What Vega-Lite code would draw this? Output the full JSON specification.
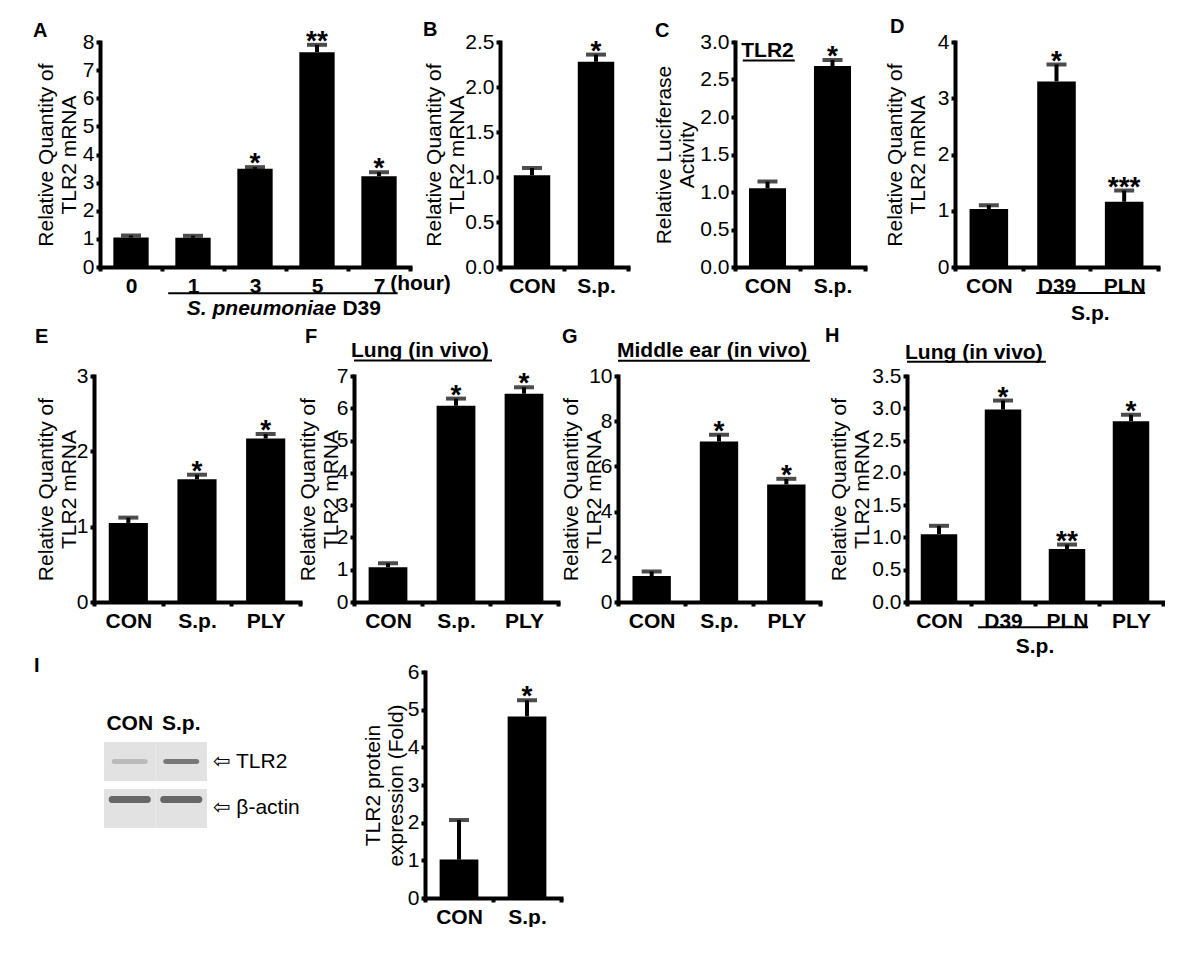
{
  "$schema": "https://vega.github.io/schema/vega-lite/v6.json",
  "background": "white",
  "padding": {"left": 33, "top": 17, "right": 0, "bottom": 0},
  "datasets": {
    "A": [
      {"cat": "0", "mean": 1.05, "err": 1.12, "sig": ""},
      {"cat": "1", "mean": 1.04, "err": 1.11, "sig": ""},
      {"cat": "3", "mean": 3.49, "err": 3.55, "sig": "*"},
      {"cat": "5", "mean": 7.64, "err": 7.9, "sig": "**"},
      {"cat": "7", "mean": 3.23, "err": 3.37, "sig": "*"}
    ],
    "B": [
      {"cat": "CON", "mean": 1.02, "err": 1.1, "sig": ""},
      {"cat": "S.p.", "mean": 2.28, "err": 2.36, "sig": "*"}
    ],
    "C": [
      {"cat": "CON", "mean": 1.05, "err": 1.14, "sig": ""},
      {"cat": "S.p.", "mean": 2.68, "err": 2.76, "sig": "*"}
    ],
    "D": [
      {"cat": "CON", "mean": 1.03, "err": 1.1, "sig": ""},
      {"cat": "D39", "mean": 3.3, "err": 3.6, "sig": "*"},
      {"cat": "PLN", "mean": 1.16, "err": 1.36, "sig": "***"}
    ],
    "E": [
      {"cat": "CON", "mean": 1.05, "err": 1.12, "sig": ""},
      {"cat": "S.p.", "mean": 1.63, "err": 1.69, "sig": "*"},
      {"cat": "PLY", "mean": 2.17, "err": 2.23, "sig": "*"}
    ],
    "F": [
      {"cat": "CON", "mean": 1.08, "err": 1.2, "sig": ""},
      {"cat": "S.p.", "mean": 6.08, "err": 6.3, "sig": "*"},
      {"cat": "PLY", "mean": 6.45, "err": 6.65, "sig": "*"}
    ],
    "G": [
      {"cat": "CON", "mean": 1.15, "err": 1.35, "sig": ""},
      {"cat": "S.p.", "mean": 7.1, "err": 7.4, "sig": "*"},
      {"cat": "PLY", "mean": 5.2, "err": 5.45, "sig": "*"}
    ],
    "H": [
      {"cat": "CON", "mean": 1.05, "err": 1.18, "sig": ""},
      {"cat": "D39", "mean": 2.98, "err": 3.12, "sig": "*"},
      {"cat": "PLN", "mean": 0.82, "err": 0.89, "sig": "**"},
      {"cat": "PLY", "mean": 2.8, "err": 2.9, "sig": "*"}
    ],
    "I": [
      {"cat": "CON", "mean": 1.02, "err": 2.07, "sig": ""},
      {"cat": "S.p.", "mean": 4.82, "err": 5.25, "sig": "*"}
    ],
    "blot": [
      {"lane": "CON", "row": "TLR2", "level": 0.25},
      {"lane": "S.p.", "row": "TLR2", "level": 0.72},
      {"lane": "CON", "row": "β-actin", "level": 0.85},
      {"lane": "S.p.", "row": "β-actin", "level": 0.85}
    ]
  },
  "bounds": "flush",
  "spacing": 0,
  "vconcat": [
    {
      "bounds": "flush",
      "spacing": 0,
      "hconcat": [
        {"width": 6, "height": 225, "data": {"values": [{}]}, "mark": {"type": "point", "opacity": 0}},
        {
          "width": 310, "height": 225,
          "data": {"name": "A"},
          "encoding": {"x": {"field": "cat", "type": "nominal", "scale": {"domain": ["0", "1", "3", "5", "7"], "paddingInner": 0, "paddingOuter": 0}, "axis": {"title": null}}},
          "layer": [
            {"mark": {"type": "bar", "width": {"band": 0.57}, "color": "black"}, "encoding": {"y": {"field": "mean", "type": "quantitative", "scale": {"domain": [0, 8], "nice": false}, "axis": {"values": [0, 1, 2, 3, 4, 5, 6, 7, 8], "tickCount": 20, "format": "d", "labelOverlap": false, "title": ["Relative Quantity of", "TLR2 mRNA"], "titleX": -44}}}},
            {"mark": {"type": "rule", "strokeWidth": 4, "color": "black"}, "encoding": {"y": {"field": "mean", "type": "quantitative"}, "y2": {"field": "err"}}},
            {"mark": {"type": "tick", "thickness": 4, "size": 20, "color": "black"}, "encoding": {"y": {"field": "err", "type": "quantitative"}}},
            {"mark": {"type": "text", "fontSize": 28, "fontWeight": "bold", "baseline": "alphabetic", "dy": 5, "color": "black"}, "encoding": {"y": {"field": "err", "type": "quantitative"}, "text": {"field": "sig"}}},
            {"data": {"values": [{}]}, "mark": {"type": "text", "fontSize": 20, "fontWeight": "bold", "align": "left", "baseline": "alphabetic", "dx": -67, "color": "black"}, "encoding": {"x": {"datum": "0", "bandPosition": 0}, "y": {"datum": 8.18}, "text": {"value": "A"}}},
            {"data": {"values": [{}]}, "mark": {"type": "rule", "strokeWidth": 2, "color": "black"}, "encoding": {"x": {"datum": "1", "bandPosition": 0.1}, "x2": {"datum": "7", "bandPosition": 0.8}, "y": {"datum": -0.93}}},
            {"data": {"values": [{}]}, "mark": {"type": "text", "fontSize": 21, "fontWeight": "bold", "fontStyle": "italic", "align": "right", "baseline": "middle", "color": "black"}, "encoding": {"x": {"datum": "5", "bandPosition": 0.81}, "y": {"datum": -1.5}, "text": {"value": "S. pneumoniae"}}},
            {"data": {"values": [{}]}, "mark": {"type": "text", "fontSize": 21, "fontWeight": "bold", "align": "left", "baseline": "middle", "color": "black"}, "encoding": {"x": {"datum": "5", "bandPosition": 0.91}, "y": {"datum": -1.5}, "text": {"value": "D39"}}},
            {"data": {"values": [{}]}, "mark": {"type": "text", "fontSize": 21, "fontWeight": "bold", "align": "left", "baseline": "middle", "color": "black"}, "encoding": {"x": {"datum": "7", "bandPosition": 0.68}, "y": {"datum": -0.6}, "text": {"value": "(hour)"}}}
          ]
        },
        {"width": 90, "height": 225, "data": {"values": [{}]}, "mark": {"type": "point", "opacity": 0}},
        {
          "width": 128, "height": 225,
          "data": {"name": "B"},
          "encoding": {"x": {"field": "cat", "type": "nominal", "scale": {"domain": ["CON", "S.p."], "paddingInner": 0, "paddingOuter": 0}, "axis": {"title": null}}},
          "layer": [
            {"mark": {"type": "bar", "width": {"band": 0.57}, "color": "black"}, "encoding": {"y": {"field": "mean", "type": "quantitative", "scale": {"domain": [0, 2.5], "nice": false}, "axis": {"values": [0, 0.5, 1, 1.5, 2, 2.5], "tickCount": 20, "format": ".1f", "labelOverlap": false, "title": ["Relative Quantity of", "TLR2 mRNA"], "titleX": -56}}}},
            {"mark": {"type": "rule", "strokeWidth": 4, "color": "black"}, "encoding": {"y": {"field": "mean", "type": "quantitative"}, "y2": {"field": "err"}}},
            {"mark": {"type": "tick", "thickness": 4, "size": 20, "color": "black"}, "encoding": {"y": {"field": "err", "type": "quantitative"}}},
            {"mark": {"type": "text", "fontSize": 28, "fontWeight": "bold", "baseline": "alphabetic", "dy": 5, "color": "black"}, "encoding": {"y": {"field": "err", "type": "quantitative"}, "text": {"field": "sig"}}},
            {"data": {"values": [{}]}, "mark": {"type": "text", "fontSize": 20, "fontWeight": "bold", "align": "left", "baseline": "alphabetic", "dx": -77, "color": "black"}, "encoding": {"x": {"datum": "CON", "bandPosition": 0}, "y": {"datum": 2.567}, "text": {"value": "B"}}}
          ]
        },
        {"width": 107, "height": 225, "data": {"values": [{}]}, "mark": {"type": "point", "opacity": 0}},
        {
          "width": 130, "height": 225,
          "data": {"name": "C"},
          "encoding": {"x": {"field": "cat", "type": "nominal", "scale": {"domain": ["CON", "S.p."], "paddingInner": 0, "paddingOuter": 0}, "axis": {"title": null}}},
          "layer": [
            {"mark": {"type": "bar", "width": {"band": 0.57}, "color": "black"}, "encoding": {"y": {"field": "mean", "type": "quantitative", "scale": {"domain": [0, 3], "nice": false}, "axis": {"values": [0, 0.5, 1, 1.5, 2, 2.5, 3], "tickCount": 20, "format": ".1f", "labelOverlap": false, "title": ["Relative Luciferase", "Activity"], "titleX": -61}}}},
            {"mark": {"type": "rule", "strokeWidth": 4, "color": "black"}, "encoding": {"y": {"field": "mean", "type": "quantitative"}, "y2": {"field": "err"}}},
            {"mark": {"type": "tick", "thickness": 4, "size": 20, "color": "black"}, "encoding": {"y": {"field": "err", "type": "quantitative"}}},
            {"mark": {"type": "text", "fontSize": 28, "fontWeight": "bold", "baseline": "alphabetic", "dy": 5, "color": "black"}, "encoding": {"y": {"field": "err", "type": "quantitative"}, "text": {"field": "sig"}}},
            {"data": {"values": [{}]}, "mark": {"type": "text", "fontSize": 20, "fontWeight": "bold", "align": "left", "baseline": "alphabetic", "dx": -80, "color": "black"}, "encoding": {"x": {"datum": "CON", "bandPosition": 0}, "y": {"datum": 3.07}, "text": {"value": "C"}}},
            {"data": {"values": [{}]}, "mark": {"type": "text", "fontSize": 21, "fontWeight": "bold", "align": "center", "baseline": "alphabetic", "color": "black"}, "encoding": {"x": {"datum": "CON"}, "y": {"datum": 2.8}, "text": {"value": "TLR2"}}},
            {"data": {"values": [{}]}, "mark": {"type": "rule", "strokeWidth": 2, "color": "black"}, "encoding": {"x": {"datum": "CON", "bandPosition": 0.12}, "x2": {"datum": "CON", "bandPosition": 0.92}, "y": {"datum": 2.755}}}
          ]
        },
        {"width": 90, "height": 225, "data": {"values": [{}]}, "mark": {"type": "point", "opacity": 0}},
        {
          "width": 203, "height": 225,
          "data": {"name": "D"},
          "encoding": {"x": {"field": "cat", "type": "nominal", "scale": {"domain": ["CON", "D39", "PLN"], "paddingInner": 0, "paddingOuter": 0}, "axis": {"title": null}}},
          "layer": [
            {"mark": {"type": "bar", "width": {"band": 0.57}, "color": "black"}, "encoding": {"y": {"field": "mean", "type": "quantitative", "scale": {"domain": [0, 4], "nice": false}, "axis": {"values": [0, 1, 2, 3, 4], "tickCount": 20, "format": "d", "labelOverlap": false, "title": ["Relative Quantity of", "TLR2 mRNA"], "titleX": -50}}}},
            {"mark": {"type": "rule", "strokeWidth": 4, "color": "black"}, "encoding": {"y": {"field": "mean", "type": "quantitative"}, "y2": {"field": "err"}}},
            {"mark": {"type": "tick", "thickness": 4, "size": 20, "color": "black"}, "encoding": {"y": {"field": "err", "type": "quantitative"}}},
            {"mark": {"type": "text", "fontSize": 28, "fontWeight": "bold", "baseline": "alphabetic", "dy": 5, "color": "black"}, "encoding": {"y": {"field": "err", "type": "quantitative"}, "text": {"field": "sig"}}},
            {"data": {"values": [{}]}, "mark": {"type": "text", "fontSize": 20, "fontWeight": "bold", "align": "left", "baseline": "alphabetic", "dx": -65, "color": "black"}, "encoding": {"x": {"datum": "CON", "bandPosition": 0}, "y": {"datum": 4.155}, "text": {"value": "D"}}},
            {"data": {"values": [{}]}, "mark": {"type": "rule", "strokeWidth": 2, "color": "black"}, "encoding": {"x": {"datum": "D39", "bandPosition": 0.2}, "x2": {"datum": "PLN", "bandPosition": 0.81}, "y": {"datum": -0.46}}},
            {"data": {"values": [{}]}, "mark": {"type": "text", "fontSize": 21, "fontWeight": "bold", "align": "center", "baseline": "middle", "color": "black"}, "encoding": {"x": {"datum": "PLN", "bandPosition": 0}, "y": {"datum": -0.84}, "text": {"value": "S.p."}}}
          ]
        }
      ]
    },
    {"width": 1, "height": 334, "data": {"values": [{}]}, "mark": {"type": "point", "opacity": 0}},
    {
      "bounds": "flush",
      "spacing": 0,
      "hconcat": [
        {
          "width": 206, "height": 226,
          "data": {"name": "E"},
          "encoding": {"x": {"field": "cat", "type": "nominal", "scale": {"domain": ["CON", "S.p.", "PLY"], "paddingInner": 0, "paddingOuter": 0}, "axis": {"title": null}}},
          "layer": [
            {"mark": {"type": "bar", "width": {"band": 0.57}, "color": "black"}, "encoding": {"y": {"field": "mean", "type": "quantitative", "scale": {"domain": [0, 3], "nice": false}, "axis": {"values": [0, 1, 2, 3], "tickCount": 20, "format": "d", "labelOverlap": false, "title": ["Relative Quantity of", "TLR2 mRNA"], "titleX": -38}}}},
            {"mark": {"type": "rule", "strokeWidth": 4, "color": "black"}, "encoding": {"y": {"field": "mean", "type": "quantitative"}, "y2": {"field": "err"}}},
            {"mark": {"type": "tick", "thickness": 4, "size": 20, "color": "black"}, "encoding": {"y": {"field": "err", "type": "quantitative"}}},
            {"mark": {"type": "text", "fontSize": 28, "fontWeight": "bold", "baseline": "alphabetic", "dy": 5, "color": "black"}, "encoding": {"y": {"field": "err", "type": "quantitative"}, "text": {"field": "sig"}}},
            {"data": {"values": [{}]}, "mark": {"type": "text", "fontSize": 20, "fontWeight": "bold", "align": "left", "baseline": "alphabetic", "dx": -59, "color": "black"}, "encoding": {"x": {"datum": "CON", "bandPosition": 0}, "y": {"datum": 3.438}, "text": {"value": "E"}}}
          ]
        },
        {"width": 54, "height": 226, "data": {"values": [{}]}, "mark": {"type": "point", "opacity": 0}},
        {
          "width": 204, "height": 226,
          "data": {"name": "F"},
          "encoding": {"x": {"field": "cat", "type": "nominal", "scale": {"domain": ["CON", "S.p.", "PLY"], "paddingInner": 0, "paddingOuter": 0}, "axis": {"title": null}}},
          "layer": [
            {"mark": {"type": "bar", "width": {"band": 0.57}, "color": "black"}, "encoding": {"y": {"field": "mean", "type": "quantitative", "scale": {"domain": [0, 7], "nice": false}, "axis": {"values": [0, 1, 2, 3, 4, 5, 6, 7], "tickCount": 20, "format": "d", "labelOverlap": false, "title": ["Relative Quantity of", "TLR2 mRNA"], "titleX": -36}}}},
            {"mark": {"type": "rule", "strokeWidth": 4, "color": "black"}, "encoding": {"y": {"field": "mean", "type": "quantitative"}, "y2": {"field": "err"}}},
            {"mark": {"type": "tick", "thickness": 4, "size": 20, "color": "black"}, "encoding": {"y": {"field": "err", "type": "quantitative"}}},
            {"mark": {"type": "text", "fontSize": 28, "fontWeight": "bold", "baseline": "alphabetic", "dy": 5, "color": "black"}, "encoding": {"y": {"field": "err", "type": "quantitative"}, "text": {"field": "sig"}}},
            {"data": {"values": [{}]}, "mark": {"type": "text", "fontSize": 20, "fontWeight": "bold", "align": "left", "baseline": "alphabetic", "dx": -49, "color": "black"}, "encoding": {"x": {"datum": "CON", "bandPosition": 0}, "y": {"datum": 8.02}, "text": {"value": "F"}}},
            {"data": {"values": [{}]}, "mark": {"type": "text", "fontSize": 21, "fontWeight": "bold", "align": "left", "baseline": "alphabetic", "dx": -3, "color": "black"}, "encoding": {"x": {"datum": "CON", "bandPosition": 0}, "y": {"datum": 7.59}, "text": {"value": "Lung (in vivo)"}}},
            {"data": {"values": [{}]}, "mark": {"type": "rule", "strokeWidth": 2, "color": "black"}, "encoding": {"x": {"datum": "CON", "bandPosition": 0}, "x2": {"datum": "PLY", "bandPosition": 0.03}, "y": {"datum": 7.48}}}
          ]
        },
        {"width": 60, "height": 226, "data": {"values": [{}]}, "mark": {"type": "point", "opacity": 0}},
        {
          "width": 202, "height": 226,
          "data": {"name": "G"},
          "encoding": {"x": {"field": "cat", "type": "nominal", "scale": {"domain": ["CON", "S.p.", "PLY"], "paddingInner": 0, "paddingOuter": 0}, "axis": {"title": null}}},
          "layer": [
            {"mark": {"type": "bar", "width": {"band": 0.57}, "color": "black"}, "encoding": {"y": {"field": "mean", "type": "quantitative", "scale": {"domain": [0, 10], "nice": false}, "axis": {"values": [0, 2, 4, 6, 8, 10], "tickCount": 20, "format": "d", "labelOverlap": false, "title": ["Relative Quantity of", "TLR2 mRNA"], "titleX": -37}}}},
            {"mark": {"type": "rule", "strokeWidth": 4, "color": "black"}, "encoding": {"y": {"field": "mean", "type": "quantitative"}, "y2": {"field": "err"}}},
            {"mark": {"type": "tick", "thickness": 4, "size": 20, "color": "black"}, "encoding": {"y": {"field": "err", "type": "quantitative"}}},
            {"mark": {"type": "text", "fontSize": 28, "fontWeight": "bold", "baseline": "alphabetic", "dy": 5, "color": "black"}, "encoding": {"y": {"field": "err", "type": "quantitative"}, "text": {"field": "sig"}}},
            {"data": {"values": [{}]}, "mark": {"type": "text", "fontSize": 20, "fontWeight": "bold", "align": "left", "baseline": "alphabetic", "dx": -56, "color": "black"}, "encoding": {"x": {"datum": "CON", "bandPosition": 0}, "y": {"datum": 11.46}, "text": {"value": "G"}}},
            {"data": {"values": [{}]}, "mark": {"type": "text", "fontSize": 21, "fontWeight": "bold", "align": "left", "baseline": "alphabetic", "dx": -1, "color": "black"}, "encoding": {"x": {"datum": "CON", "bandPosition": 0}, "y": {"datum": 10.83}, "text": {"value": "Middle ear (in vivo)"}}},
            {"data": {"values": [{}]}, "mark": {"type": "rule", "strokeWidth": 2, "color": "black"}, "encoding": {"x": {"datum": "CON", "bandPosition": 0}, "x2": {"datum": "PLY", "bandPosition": 0.85}, "y": {"datum": 10.67}}}
          ]
        },
        {"width": 87, "height": 226, "data": {"values": [{}]}, "mark": {"type": "point", "opacity": 0}},
        {
          "width": 256, "height": 226,
          "data": {"name": "H"},
          "encoding": {"x": {"field": "cat", "type": "nominal", "scale": {"domain": ["CON", "D39", "PLN", "PLY"], "paddingInner": 0, "paddingOuter": 0}, "axis": {"title": null}}},
          "layer": [
            {"mark": {"type": "bar", "width": {"band": 0.57}, "color": "black"}, "encoding": {"y": {"field": "mean", "type": "quantitative", "scale": {"domain": [0, 3.5], "nice": false}, "axis": {"values": [0, 0.5, 1, 1.5, 2, 2.5, 3, 3.5], "tickCount": 20, "format": ".1f", "labelOverlap": false, "title": ["Relative Quantity of", "TLR2 mRNA"], "titleX": -58}}}},
            {"mark": {"type": "rule", "strokeWidth": 4, "color": "black"}, "encoding": {"y": {"field": "mean", "type": "quantitative"}, "y2": {"field": "err"}}},
            {"mark": {"type": "tick", "thickness": 4, "size": 20, "color": "black"}, "encoding": {"y": {"field": "err", "type": "quantitative"}}},
            {"mark": {"type": "text", "fontSize": 28, "fontWeight": "bold", "baseline": "alphabetic", "dy": 5, "color": "black"}, "encoding": {"y": {"field": "err", "type": "quantitative"}, "text": {"field": "sig"}}},
            {"data": {"values": [{}]}, "mark": {"type": "text", "fontSize": 20, "fontWeight": "bold", "align": "left", "baseline": "alphabetic", "dx": -82, "color": "black"}, "encoding": {"x": {"datum": "CON", "bandPosition": 0}, "y": {"datum": 4.027}, "text": {"value": "H"}}},
            {"data": {"values": [{}]}, "mark": {"type": "text", "fontSize": 21, "fontWeight": "bold", "align": "left", "baseline": "alphabetic", "dx": -2, "color": "black"}, "encoding": {"x": {"datum": "CON", "bandPosition": 0}, "y": {"datum": 3.77}, "text": {"value": "Lung (in vivo)"}}},
            {"data": {"values": [{}]}, "mark": {"type": "rule", "strokeWidth": 2, "color": "black"}, "encoding": {"x": {"datum": "CON", "bandPosition": 0}, "x2": {"datum": "PLN", "bandPosition": 0.17}, "y": {"datum": 3.72}}},
            {"data": {"values": [{}]}, "mark": {"type": "rule", "strokeWidth": 2, "color": "black"}, "encoding": {"x": {"datum": "D39", "bandPosition": 0.11}, "x2": {"datum": "PLN", "bandPosition": 0.83}, "y": {"datum": -0.39}}},
            {"data": {"values": [{}]}, "mark": {"type": "text", "fontSize": 21, "fontWeight": "bold", "align": "center", "baseline": "middle", "color": "black"}, "encoding": {"x": {"datum": "PLN", "bandPosition": 0}, "y": {"datum": -0.7}, "text": {"value": "S.p."}}}
          ]
        }
      ]
    },
    {"width": 1, "height": 296, "data": {"values": [{}]}, "mark": {"type": "point", "opacity": 0}},
    {
      "bounds": "flush",
      "spacing": 0,
      "hconcat": [
        {"width": 10, "height": 226, "data": {"values": [{}]}, "mark": {"type": "point", "opacity": 0}},
        {
          "width": 103, "height": 226,
          "data": {"name": "blot"},
          "encoding": {
            "x": {"field": "lane", "type": "nominal", "scale": {"domain": ["CON", "S.p."], "paddingInner": 0, "paddingOuter": 0}, "axis": {"orient": "top", "offset": -70, "domain": false, "ticks": false, "tickSize": 0, "labelPadding": 9, "tickBand": "center", "title": null}},
            "y": {"field": "row", "type": "nominal", "scale": {"domain": ["TLR2", "β-actin"], "range": [70, 156], "paddingInner": 0.17, "paddingOuter": 0}, "axis": {"orient": "right", "domain": false, "ticks": false, "tickSize": 0, "labelPadding": 5, "labelFontSize": 21, "labelExpr": "'⇦ ' + datum.value", "title": null}}
          },
          "layer": [
            {"mark": {"type": "rect", "color": "#e2e2e2"}},
            {"transform": [{"filter": "datum.row === 'TLR2'"}], "mark": {"type": "tick", "orient": "horizontal", "size": 36, "thickness": 5, "cornerRadius": 3}, "encoding": {"color": {"field": "level", "type": "quantitative", "scale": {"domain": [0, 1], "range": ["#e2e2e2", "#1a1a1a"]}, "legend": null}}},
            {"transform": [{"filter": "datum.row === 'β-actin'"}], "mark": {"type": "tick", "orient": "horizontal", "size": 42, "thickness": 7, "cornerRadius": 3}, "encoding": {"y": {"field": "row", "type": "nominal", "bandPosition": 0.27}, "color": {"field": "level", "type": "quantitative", "scale": {"domain": [0, 1], "range": ["#e2e2e2", "#1a1a1a"]}, "legend": null}}}
          ]
        },
        {"width": 218, "height": 226, "data": {"values": [{}]}, "mark": {"type": "point", "opacity": 0}},
        {
          "width": 136, "height": 226,
          "data": {"name": "I"},
          "encoding": {"x": {"field": "cat", "type": "nominal", "scale": {"domain": ["CON", "S.p."], "paddingInner": 0, "paddingOuter": 0}, "axis": {"title": null}}},
          "layer": [
            {"mark": {"type": "bar", "width": {"band": 0.57}, "color": "black"}, "encoding": {"y": {"field": "mean", "type": "quantitative", "scale": {"domain": [0, 6], "nice": false}, "axis": {"values": [0, 1, 2, 3, 4, 5, 6], "tickCount": 20, "format": "d", "labelOverlap": false, "title": ["TLR2 protein", "expression (Fold)"], "titleX": -42}}}},
            {"mark": {"type": "rule", "strokeWidth": 4, "color": "black"}, "encoding": {"y": {"field": "mean", "type": "quantitative"}, "y2": {"field": "err"}}},
            {"mark": {"type": "tick", "thickness": 4, "size": 20, "color": "black"}, "encoding": {"y": {"field": "err", "type": "quantitative"}}},
            {"mark": {"type": "text", "fontSize": 28, "fontWeight": "bold", "baseline": "alphabetic", "dy": 5, "color": "black"}, "encoding": {"y": {"field": "err", "type": "quantitative"}, "text": {"field": "sig"}}},
            {"data": {"values": [{}]}, "mark": {"type": "text", "fontSize": 20, "fontWeight": "bold", "align": "left", "baseline": "alphabetic", "dx": -391, "color": "black"}, "encoding": {"x": {"datum": "CON", "bandPosition": 0}, "y": {"datum": 5.99}, "text": {"value": "I"}}}
          ]
        }
      ]
    }
  ],
  "config": {
    "font": "Liberation Sans",
    "view": {"stroke": null},
    "axis": {"grid": false, "domainColor": "black", "domainWidth": 4, "domainCap": "square", "tickColor": "black", "tickWidth": 4, "tickSize": 4, "labelColor": "black", "titleColor": "black"},
    "axisX": {"labelFontSize": 21, "labelFontWeight": "bold", "labelPadding": 4, "labelAngle": 0, "tickBand": "extent", "labelOverlap": false},
    "axisY": {"labelFontSize": 21, "labelPadding": 2, "titleFontSize": 21, "titleFontWeight": "normal", "titleLineHeight": 23, "titleBaseline": "bottom", "titleAngle": 270, "labelOverlap": false}
  }
}
